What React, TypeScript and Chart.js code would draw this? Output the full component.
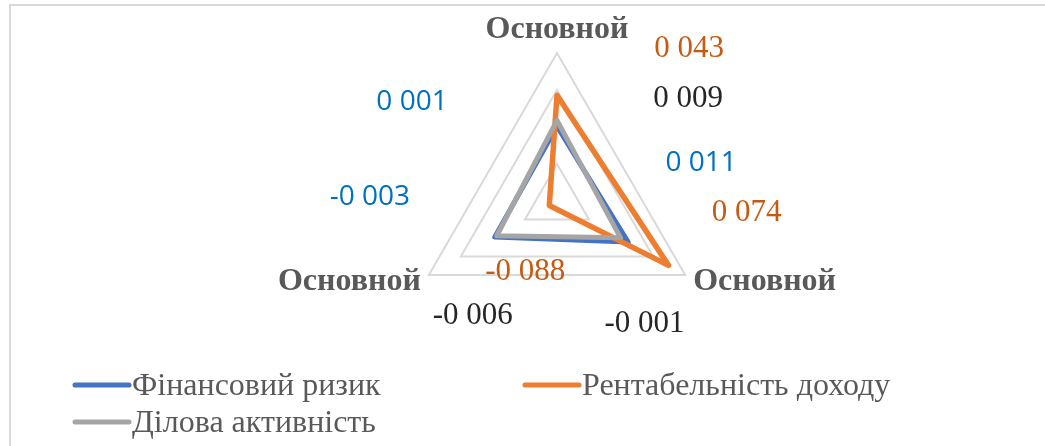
import React, { useEffect, useRef } from "react";
import { Chart, registerables } from "chart.js";

Chart.register(...registerables);

// ---- data (axis order: top, bottom-right, bottom-left) ----
const categories = ["Основной", "Основной", "Основной"];
const seriesNames = ["Фінансовий ризик", "Рентабельність доходу", "Ділова активність"];
const financialRisk = [0.001, 0.011, -0.003];
const profitability = [0.043, 0.074, -0.088];
const businessActivity = [0.009, -0.001, -0.006];
const scaleMin = -0.1;
const scaleMax = 0.1;
const scaleStep = 0.05;

// ---- styles ----
const lineColors = ["#4472C4", "#ED7D31", "#A5A5A5"];
const labelColors = ["#0070C0", "#C55A11", "#262626"];
const labelFonts = ["28px 'Open Sans'", "31px 'Liberation Serif'", "31px 'Liberation Serif'"];
// data label offsets from their point (dx, dy) per series per axis
const labelOffsets = [
  [[-145, -24], [73, -79], [-125, -40]],
  [[132, -46], [78, -53], [-24, 66]],
  [[131, -21], [24, 86], [-24, 80]],
];

const fmt = (v: number) => (v < 0 ? "-" : "") + "0 " + Math.abs(v).toFixed(3).slice(2);

const overlay = {
  id: "overlay",
  beforeDraw(chart: any) {
    const ctx = chart.ctx;
    ctx.save();
    ctx.strokeStyle = "#d9d9d9";
    ctx.lineWidth = 2;
    ctx.beginPath();
    ctx.moveTo(10, 446);
    ctx.lineTo(10, 5);
    ctx.lineTo(1045, 5);
    ctx.stroke();
    ctx.restore();
  },
  afterDraw(chart: any) {
    const ctx = chart.ctx;
    const scale = chart.scales.r;
    const R = scale.drawingArea;
    ctx.save();
    // point labels
    ctx.font = "bold 32px 'Liberation Serif'";
    ctx.fillStyle = "#595959";
    ctx.textBaseline = "alphabetic";
    categories.forEach((c, i) => {
      const p = scale.getPointPosition(i, R);
      if (i === 0) {
        ctx.textAlign = "center";
        ctx.fillText(c, p.x, p.y - 15);
      } else if (i === 1) {
        ctx.textAlign = "left";
        ctx.fillText(c, p.x + 8, p.y + 15);
      } else {
        ctx.textAlign = "right";
        ctx.fillText(c, p.x - 8, p.y + 15);
      }
    });
    // data labels
    const allData = [financialRisk, profitability, businessActivity];
    ctx.textAlign = "center";
    ctx.textBaseline = "middle";
    allData.forEach((arr, s) => {
      ctx.font = labelFonts[s];
      ctx.fillStyle = labelColors[s];
      arr.forEach((v, i) => {
        const p = scale.getPointPositionForValue(i, v);
        const [dx, dy] = labelOffsets[s][i];
        ctx.fillText(fmt(v), p.x + dx, p.y + dy);
      });
    });
    // legend
    const legendItems = [
      { x: 75, y: 385 },
      { x: 525, y: 385 },
      { x: 75, y: 422 },
    ];
    ctx.font = "32px 'Liberation Serif'";
    ctx.textAlign = "left";
    ctx.textBaseline = "alphabetic";
    seriesNames.forEach((name, s) => {
      const it = legendItems[s];
      ctx.strokeStyle = lineColors[s];
      ctx.lineWidth = 5;
      ctx.lineCap = "round";
      ctx.beginPath();
      ctx.moveTo(it.x, it.y);
      ctx.lineTo(it.x + 54, it.y);
      ctx.stroke();
      ctx.fillStyle = "#595959";
      ctx.fillText(name, it.x + 57, it.y + 10);
    });
    ctx.restore();
  },
};

export default function App() {
  const ref = useRef<HTMLCanvasElement>(null);
  useEffect(() => {
    const canvas = ref.current;
    if (!canvas) return;
    const seriesData = [financialRisk, profitability, businessActivity];
    const chart = new Chart(canvas, {
      type: "radar",
      data: {
        labels: categories,
        datasets: seriesData.map((d, i) => ({
          label: seriesNames[i],
          data: d,
          borderColor: lineColors[i],
          backgroundColor: "transparent",
          borderWidth: i === 1 ? 5.5 : 5,
          borderJoinStyle: "round",
          borderCapStyle: "round",
          fill: false,
          pointRadius: 0,
          order: 3 - i,
        })),
      },
      options: {
        responsive: false,
        animation: false,
        layout: { padding: { left: 357, right: 288, top: 53, bottom: 97 } },
        plugins: { legend: { display: false }, tooltip: { enabled: false } },
        scales: {
          r: {
            min: scaleMin,
            max: scaleMax,
            ticks: { stepSize: scaleStep, display: false },
            pointLabels: { display: false },
            angleLines: { display: false },
            grid: { color: "#d9d9d9", lineWidth: 2 },
          },
        },
      } as any,
      plugins: [overlay],
    });
    return () => chart.destroy();
  }, []);
  return (
    <div style={{ position: "fixed", left: 0, top: 0, width: 1045, height: 446, background: "#fff" }}>
      <canvas ref={ref} width={1045} height={446} style={{ display: "block" }} />
    </div>
  );
}
